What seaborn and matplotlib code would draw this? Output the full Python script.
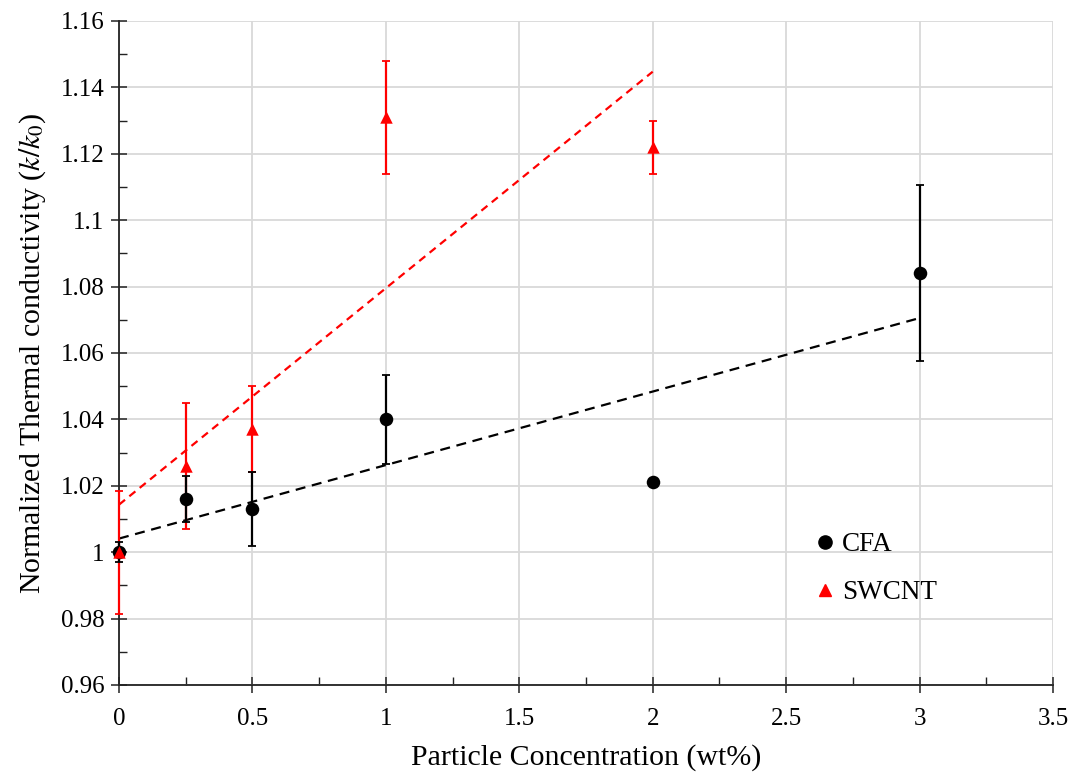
import numpy as np
import pandas as pd
import matplotlib
matplotlib.use("Agg")
import matplotlib.pyplot as plt
from matplotlib.ticker import MultipleLocator, FuncFormatter
from matplotlib.lines import Line2D
import seaborn as sns

# Measured thermal conductivity ratios with error bars
conc_cfa = [0, 0.25, 0.5, 1, 2, 3]
k_cfa = [1.000, 1.016, 1.013, 1.040, 1.021, 1.084]
err_cfa = [0.003, 0.007, 0.0112, 0.0134, 0.0, 0.0265]

conc_swcnt = [0, 0.25, 0.5, 1, 2]
k_swcnt = [1.000, 1.026, 1.037, 1.131, 1.122]
err_swcnt = [0.0185, 0.019, 0.013, 0.017, 0.008]

x_ticks = [0, 0.5, 1, 1.5, 2, 2.5, 3, 3.5]
y_ticks = [0.96, 0.98, 1.00, 1.02, 1.04, 1.06, 1.08, 1.10, 1.12, 1.14, 1.16]

df_cfa = pd.DataFrame({"conc": conc_cfa, "k": k_cfa, "err": err_cfa})
df_sw = pd.DataFrame({"conc": conc_swcnt, "k": k_swcnt, "err": err_swcnt})

sns.set_style("white")
plt.rcParams["font.family"] = ["Liberation Serif", "DejaVu Serif"]
plt.rcParams["mathtext.fontset"] = "stix"
plt.rcParams["text.color"] = "black"
plt.rcParams["axes.labelcolor"] = "black"
plt.rcParams["xtick.color"] = "black"
plt.rcParams["ytick.color"] = "black"

fig = plt.figure(figsize=(10.70, 7.74), dpi=100)
ax = fig.add_axes([0.1112, 0.115, 0.8729, 0.858])

red = "#ff0000"
black = "#000000"

# Linear trend lines
sns.regplot(data=df_sw, x="conc", y="k", ax=ax, ci=None, scatter=False,
            line_kws=dict(color=red, lw=1.6, dashes=(3.5, 2.5), zorder=3))
sns.regplot(data=df_cfa, x="conc", y="k", ax=ax, ci=None, scatter=False,
            line_kws=dict(color=black, lw=1.6, dashes=(4.5, 3.0), zorder=3))

# Error bars
eb_sw = ax.errorbar(df_sw["conc"], df_sw["k"], yerr=df_sw["err"], fmt="none",
                    ecolor=red, elinewidth=1.6, capsize=2.6, capthick=1.3, zorder=4)
eb_cfa = ax.errorbar(df_cfa["conc"], df_cfa["k"], yerr=df_cfa["err"], fmt="none",
                     ecolor=black, elinewidth=1.6, capsize=2.6, capthick=1.3, zorder=5)
for eb in (eb_sw, eb_cfa):
    for art in eb.lines[1] + eb.lines[2]:
        art.set_clip_on(False)

# Markers
n_before = len(ax.collections)
sns.scatterplot(data=df_cfa, x="conc", y="k", ax=ax, color=black, marker="o",
                s=95, edgecolor=black, linewidth=0, zorder=6)
sns.scatterplot(data=df_sw, x="conc", y="k", ax=ax, color=red, marker="^",
                s=80, edgecolor=red, linewidth=0, zorder=7)
for coll in ax.collections[n_before:]:
    coll.set_clip_on(False)

ax.set_xlim(0, 3.5)
ax.set_ylim(0.96, 1.16)
ax.set_xticks(x_ticks)
ax.set_yticks(y_ticks)
ax.xaxis.set_minor_locator(MultipleLocator(0.25))
ax.yaxis.set_minor_locator(MultipleLocator(0.01))

fmt = FuncFormatter(lambda v, p: f"{v:.2f}".rstrip("0").rstrip(".") if abs(v - round(v)) > 1e-9 else f"{int(round(v))}")
ax.xaxis.set_major_formatter(fmt)
ax.yaxis.set_major_formatter(fmt)

ax.grid(True, which="major", color="#d9d9d9", lw=1.3, zorder=0)
ax.set_axisbelow(True)
for s in ["top", "right"]:
    ax.spines[s].set_visible(False)
for s in ["left", "bottom"]:
    ax.spines[s].set_color("#222222")
    ax.spines[s].set_linewidth(1.3)

ax.tick_params(which="both", bottom=True, left=True, top=False, right=False)
ax.tick_params(which="major", direction="inout", length=11, width=1.1,
               color="#222222", labelsize=18)
ax.tick_params(axis="x", which="major", pad=11)
ax.tick_params(axis="y", which="major", pad=5)
ax.tick_params(which="minor", direction="in", length=5.5, width=1.0,
               color="#222222")

ax.set_xlabel("Particle Concentration (wt%)", fontsize=21.5, labelpad=10)
ax.set_ylabel(r"Normalized Thermal conductivity ($k/k_{\mathrm{0}}$)",
              fontsize=21.5, labelpad=9)

handles = [
    Line2D([], [], ls="none", marker="o", color=black, markersize=9.5),
    Line2D([], [], ls="none", marker="^", color=red, markersize=8.5),
]
ax.legend(handles, ["CFA", "SWCNT"], loc="center left",
          bbox_to_anchor=(0.712, 0.175), frameon=False, fontsize=19.5,
          handletextpad=0.05, labelspacing=0.85, handlelength=1.2)

fig.savefig("out.png", dpi=100)
